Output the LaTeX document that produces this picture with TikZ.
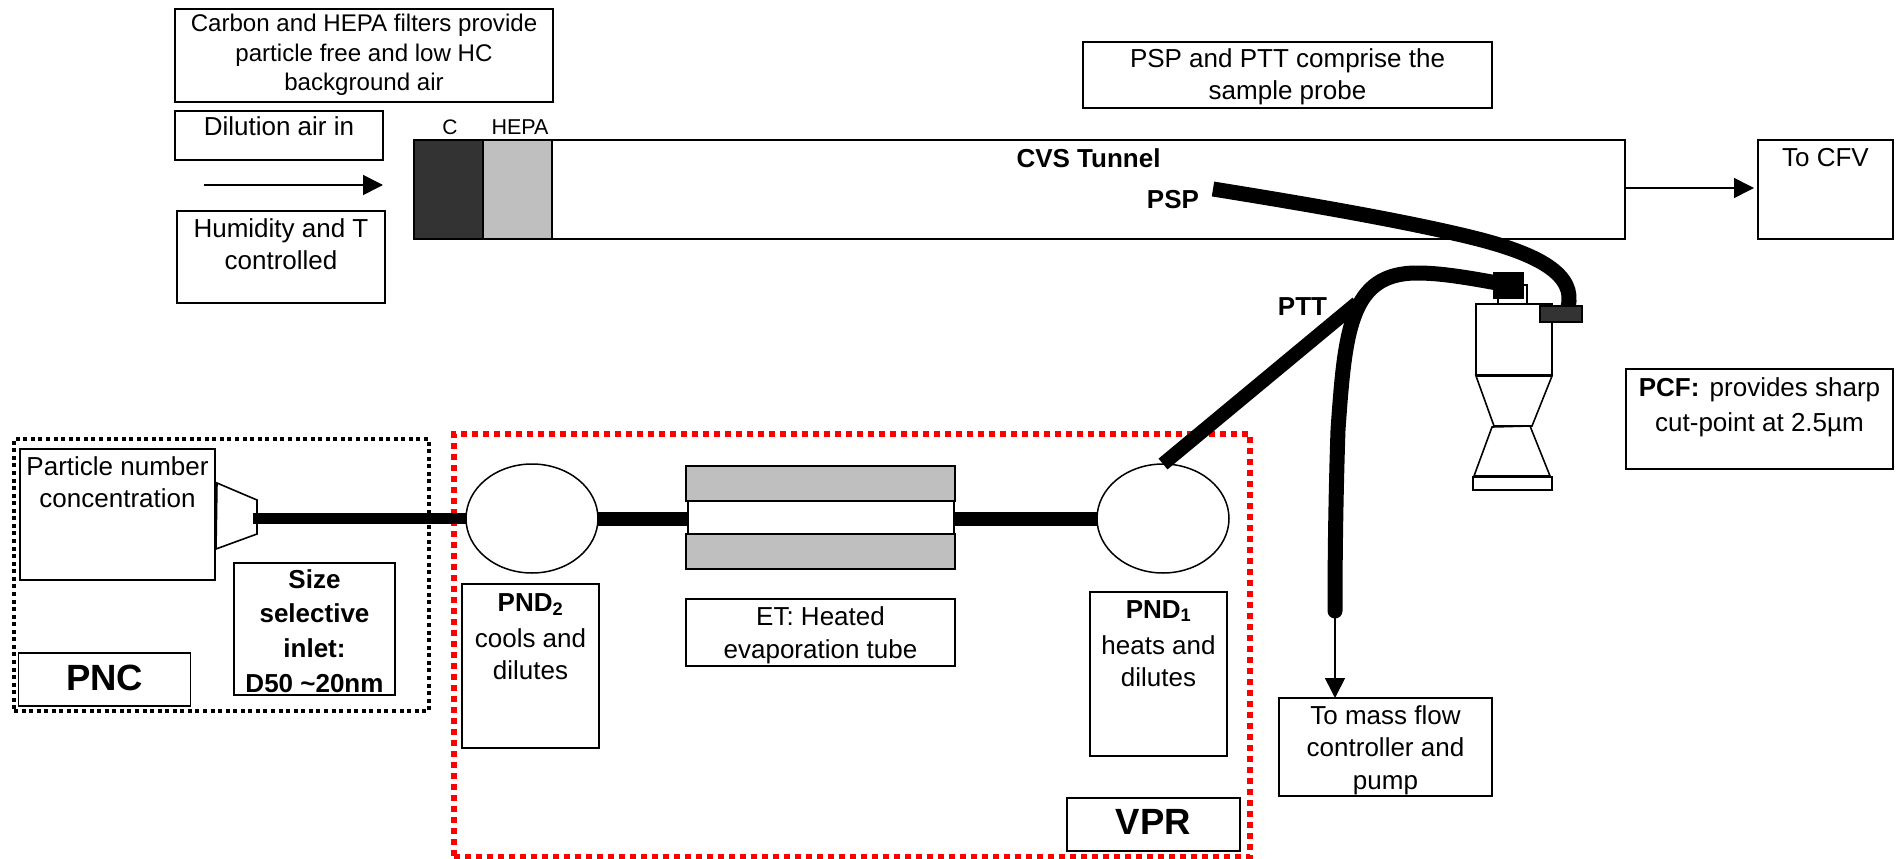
\documentclass[tikz,border=0pt]{standalone}
\usepackage{fontspec}
\setmainfont{Liberation Sans}
\usetikzlibrary{arrows.meta,shapes.geometric}
\tikzset{
  boxed/.style={draw=black,line width=1.6pt,inner sep=0pt,outer sep=0pt,fill=white},
  plain/.style={draw=black,line width=1.6pt,inner sep=0pt,outer sep=0pt},
  lab/.style={inner sep=0pt,outer sep=0pt,anchor=base},
  pipe/.style={line width=#1,draw=black},
  thin arrow/.style={draw=black,line width=1.6pt,-{Triangle[length=20pt,width=20pt]}},
  oval/.style={ellipse,draw=black,line width=1.5pt,inner sep=0pt,outer sep=0pt,fill=white,minimum width=132pt,minimum height=109pt},
  redframe/.style={draw=red,line width=6pt,dash pattern=on 6pt off 5pt,inner sep=0pt,outer sep=0pt},
  blackframe/.style={draw=black,line width=3.8pt,dash pattern=on 4pt off 3.56pt,inner sep=0pt,outer sep=0pt},
}
\newcommand{\txtbox}[9]{%
  \pgfmathsetmacro\wid{#4-#2}\pgfmathsetmacro\hei{#5-#3}\pgfmathsetmacro\pad{#8-0.7*#7}%
  \node[boxed,anchor=north west,minimum width=\wid pt,minimum height=\hei pt] (#1) at (#2,#3)
    {\parbox[c][\hei pt][t]{\wid pt}{\centering\fontsize{#6}{#7}\selectfont\vspace*{\pad pt}\strut #9}};}
\newcommand{\rectnode}[6]{%
  \pgfmathsetmacro\wid{#4-#2}\pgfmathsetmacro\hei{#5-#3}%
  \node[#6,anchor=north west,minimum width=\wid pt,minimum height=\hei pt] (#1) at (#2,#3) {};}
\begin{document}
\begin{tikzpicture}[x=1pt,y=-1pt]
\useasboundingbox[fill=white] (0,0) rectangle (1899,859);

% frames
\rectnode{pncframe}{14}{439}{429}{711}{blackframe}
\rectnode{vprframe}{454}{434}{1250}{857}{redframe}

% top left
\txtbox{carbon}{175}{9}{553}{102}{24.1}{29.3}{23}{Carbon and HEPA filters provide\\particle free and low HC\\background air}
\txtbox{dilution}{175}{111}{383}{160}{26}{32}{25}{Dilution air in}
\txtbox{humidity}{177}{211}{385}{303}{26}{32.7}{26}{Humidity and T\\controlled}
\coordinate (airstart) at (204,185);
\coordinate (airend) at (383,185);
\draw[thin arrow] (airstart) -- (airend);

% tunnel
\rectnode{tunnel}{552}{140}{1625}{239}{plain}
\rectnode{cfilter}{414}{140}{483}{239}{plain,fill=black!80}
\rectnode{hepa}{483}{140}{552}{239}{plain,fill=black!25}
\node[lab] (clab) at (450,134) {\fontsize{21}{24}\selectfont C};
\node[lab] (hepalab) at (520,134) {\fontsize{21.5}{24}\selectfont HEPA};
\node[lab] (cvs) at (1088.5,167) {\fontsize{26}{30}\selectfont\bfseries CVS Tunnel};
\node[lab] (psplab) at (1173,208) {\fontsize{26}{30}\selectfont\bfseries PSP};
\node[lab] (pttlab) at (1302.5,315) {\fontsize{26}{30}\selectfont\bfseries PTT};
\txtbox{probe}{1083}{42}{1492}{108}{26}{32}{26}{PSP and PTT comprise the\\sample probe}
\txtbox{tocfv}{1758}{140}{1893}{239}{26}{32}{26}{To CFV}
\coordinate (tunnelout) at (1625,188);
\draw[thin arrow,shorten >=4pt] (tunnelout) -- (tocfv.west |- tunnelout);
\txtbox{pcf}{1626}{369}{1893}{469}{26}{35}{27}{\textbf{PCF:}\hspace{3pt} provides sharp\\cut-point at 2.5µm}

% cyclone
\rectnode{neck}{1498}{285}{1527}{304}{plain}
\rectnode{cyclone}{1476}{304}{1552}{375}{plain}
\draw[plain] (1476,376) -- (1552,376) -- (1532,426) -- (1494,426) -- cycle;
\draw[plain] (1492,427) -- (1530,426) -- (1550,476) -- (1474,476) -- cycle;
\rectnode{cycbase}{1473}{477}{1552}{490}{plain}

% lower train nodes
\node[oval] (pnd2) at (532,518.5) {};
\node[oval] (pnd1) at (1163,518.5) {};
\rectnode{ettop}{686}{466}{955}{501}{plain,fill=black!25}
\rectnode{etbot}{686}{534}{955}{569}{plain,fill=black!25}
\rectnode{ettube}{688}{501}{954}{534}{plain,fill=white}
\coordinate (inlet) at (253,518.5);
\draw[pipe=11pt] (inlet) -- (pnd2.west);
\draw[pipe=14pt] (pnd2.east) -- (ettube.west |- pnd2.east);
\draw[pipe=14pt] (ettube.east |- pnd1.west) -- (pnd1.west);
\draw[plain,fill=white] (217,483) -- (257,500) -- (257,534) -- (216,549) -- cycle;
\draw[pipe=11pt] (inlet) -- ++(10,0);

% probes
\coordinate (pspstart) at (1213,189);
\coordinate (pspend) at (1568,307);
\coordinate (pttend) at (1335,611);
\coordinate (pttjoint) at (1357,303);
\coordinate (pttblock) at (1508,285);
\draw[pipe=15pt] (pspstart) .. controls (1300,203) and (1400,220) .. (1470,237)
   .. controls (1540,254) and (1576,275) .. (pspend);
\draw[pipe=14pt] (pnd1.north) -- (pttjoint);
\draw[pipe=15pt,line cap=round] (pttblock) .. controls (1465,277) and (1440,273) .. (1417,273)
   .. controls (1350,273) and (1345,330) .. (1338,430)
   .. controls (1336,490) and (1335,550) .. (pttend);
\rectnode{block}{1494}{273}{1523}{298}{plain,fill=black}
\rectnode{darkblock}{1540}{306}{1582}{322}{plain,fill=black!80}

% text boxes lower
\txtbox{particle}{20}{449}{215}{580}{26}{32}{26}{Particle number\\concentration}
\txtbox{size}{234}{563}{395}{695}{26}{34.7}{25}{\bfseries Size\\selective\\inlet:\\D50 \textasciitilde20nm}
\txtbox{pnc}{18.6}{653}{190.6}{706}{36.5}{43}{37}{\bfseries PNC}
\txtbox{pnd2box}{462}{584}{599}{748}{26}{32}{27}{\textbf{PND\textsubscript{2}}\\[4pt]cools and\\dilutes}
\txtbox{etbox}{686}{599}{955}{666}{26}{33}{26}{ET: Heated\\evaporation tube}
\txtbox{pnd1box}{1090}{592}{1227}{756}{26}{32}{26}{\textbf{PND\textsubscript{1}}\\[4pt]heats and\\dilutes}
\txtbox{vpr}{1067}{798}{1240}{851}{36.5}{43}{36}{\bfseries VPR}
\txtbox{massflow}{1279}{698}{1492}{796}{26}{32.5}{26}{To mass flow\\controller and\\pump}
\draw[thin arrow] (pttend) -- (massflow.north -| pttend);
\end{tikzpicture}
\end{document}
